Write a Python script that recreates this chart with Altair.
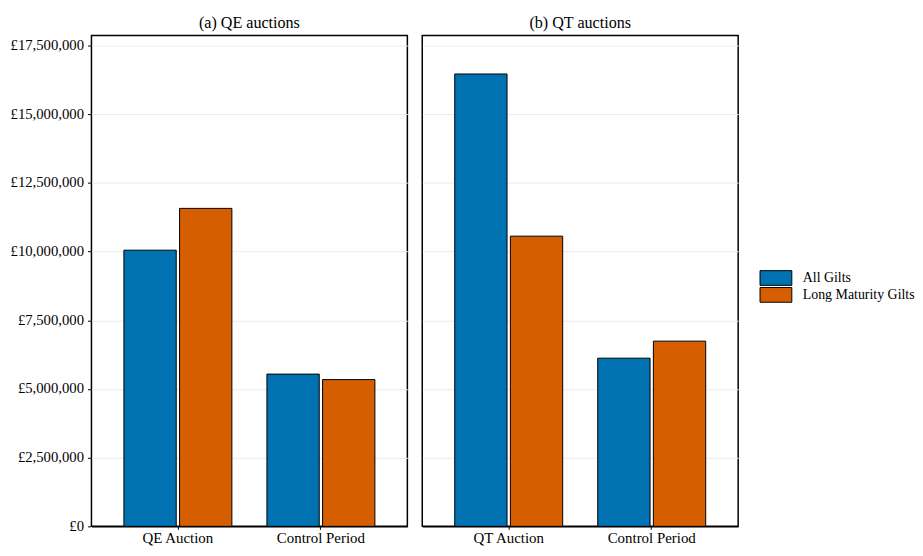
import altair as alt
import pandas as pd

panel_names = ["(a) QE auctions", "(b) QT auctions"]
panel_categories = [["QE Auction", "Control Period"], ["QT Auction", "Control Period"]]
series_names = ["All Gilts", "Long Maturity Gilts"]
all_gilts = [[10050000, 5540000], [16460000, 6120000]]
long_gilts = [[11570000, 5340000], [10560000, 6740000]]
y_ticks = [0, 2500000, 5000000, 7500000, 10000000, 12500000, 15000000, 17500000]
category_order = ["QE Auction", "QT Auction", "Control Period"]
colors = ["#0072B2", "#D55E00"]

rows = []
for p, cats, ag, lg in zip(panel_names, panel_categories, all_gilts, long_gilts):
    for c, a, l in zip(cats, ag, lg):
        rows.append({"panel": p, "period": c, "series": series_names[0], "value": a})
        rows.append({"panel": p, "period": c, "series": series_names[1], "value": l})
df = pd.DataFrame(rows)

FONT = "Liberation Serif"

bars = alt.Chart(df).mark_bar(stroke="black", strokeWidth=1).encode(
    x=alt.X("period:N", sort=category_order, title=None,
            scale=alt.Scale(paddingInner=0.245, paddingOuter=0.227),
            axis=alt.Axis(labelAngle=0, tickColor="black", tickSize=3, tickWidth=1,
                          domain=True, domainColor="black", domainWidth=1.5,
                          labelColor="black", labelFont=FONT, labelFontSize=15,
                          labelPadding=1, grid=False)),
    xOffset=alt.XOffset("series:N", sort=series_names,
                        scale=alt.Scale(paddingInner=0.06, paddingOuter=0)),
    y=alt.Y("value:Q", title=None,
            scale=alt.Scale(domain=[0, 17857000], nice=False, zero=True),
            axis=alt.Axis(values=y_ticks, labelExpr="'£' + format(datum.value, ',')",
                          tickColor="black", tickSize=3, tickWidth=1, domain=False,
                          labelColor="black", labelFont=FONT, labelFontSize=14.8,
                          labelPadding=4, grid=True, gridColor="#ebebeb", gridWidth=1)),
    color=alt.Color("series:N", sort=series_names, title=None,
                    scale=alt.Scale(domain=series_names, range=colors),
                    legend=alt.Legend(orient="none", legendX=682, legendY=237,
                                      symbolType="M-4,-1.85L4,-1.85L4,1.85L-4,1.85Z",
                                      symbolSize=64, symbolStrokeColor="black",
                                      symbolStrokeWidth=1, symbolOpacity=1,
                                      rowPadding=-5, labelOffset=20,
                                      labelFont=FONT, labelFontSize=14,
                                      labelColor="black")),
).properties(width=318, height=494)

chart = bars.facet(
    column=alt.Column("panel:N", sort=panel_names, title=None,
                      header=alt.Header(labelFont=FONT, labelFontSize=16.2,
                                        labelColor="black", labelPadding=3)),
    spacing=13,
).resolve_scale(x="independent", xOffset="independent").properties(
    background="white", padding={"left": 2, "top": 5, "right": 0, "bottom": 0}
).configure_view(
    stroke="black", strokeWidth=1.5
)

chart.save("out.html", embed_options={"renderer": "svg", "actions": False})
